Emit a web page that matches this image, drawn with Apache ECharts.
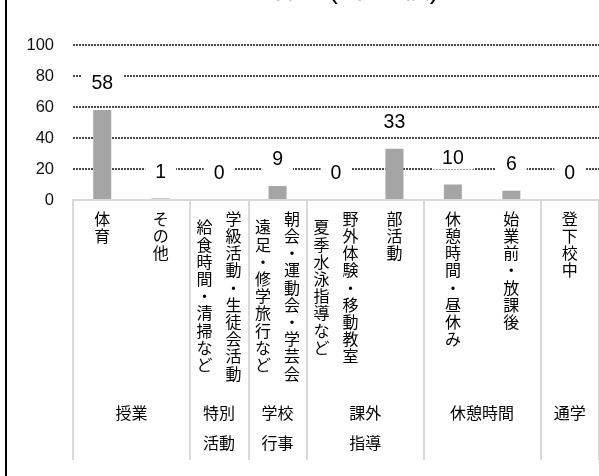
<!DOCTYPE html>
<html>
<head>
<meta charset="utf-8">
<script src="https://cdn.jsdelivr.net/npm/echarts@6/dist/echarts.min.js"></script>
<style>
  html, body { margin: 0; padding: 0; background: #fff; }
  #chart { width: 599px; height: 476px; }
  #edge { position: absolute; left: 5px; top: 0; width: 2px; height: 476px; background: #000; }
</style>
</head>
<body>
<div id="chart"></div>
<div id="edge"></div>
<script>
// 種目（縦書き・改行で2列、1行目が右の列）
const categories = [
  '体育',
  'その他',
  '学級活動・生徒会活動\n給食時間・清掃など',
  '朝会・運動会・学芸会\n遠足・修学旅行など',
  '野外体験・移動教室\n夏季水泳指導など',
  '部活動',
  '休憩時間・昼休み',
  '始業前・放課後',
  '登下校中'
]
const counts = [58, 1, 0, 9, 0, 33, 10, 6, 0]

// 大分類：区切り位置と見出し位置（カテゴリ数単位）
const groupNames = ['授業', '特別\n活動', '学校\n行事', '課外\n指導', '休憩時間', '通学']
const groupCenters = [1, 2.5, 3.5, 5, 7, 8.5]
const groupBounds = [0, 2, 3, 4, 6, 8, 9]

const yTicks = [0, 20, 40, 60, 80, 100]

const FONT = '"Liberation Sans", "Noto Sans CJK JP", sans-serif'
const BLANK = '\u3000'

// 縦書き風：半行ずつずらして2列を並べる
function vertical(label) {
  const cols = label.split('\n')
  const right = Array.from(cols[0])
  const rows = []
  if (cols.length === 1) {
    right.forEach((ch, i) => {
      if (i > 0) rows.push('{c|' + BLANK + '}')
      rows.push('{c|' + ch + '}')
    })
    return rows.join('\n')
  }
  const left = Array.from(cols[1])
  const n = Math.max(right.length, left.length)
  for (let k = 0; k < n * 2; k++) {
    if (k % 2 === 0) {
      const ch = right[k / 2] || BLANK
      rows.push('{c|' + BLANK + '}{g| }{c|' + ch + '}')
    } else {
      const ch = left[(k - 1) / 2] || BLANK
      rows.push('{c|' + ch + '}{g| }{c|' + BLANK + '}')
    }
  }
  return rows.join('\n')
}

const myChart = echarts.init(document.getElementById('chart'))

const options = {
  backgroundColor: '#fff',
  animation: false,
  textStyle: { fontFamily: FONT },
  title: {
    text: '111件\u3000( 中学校)',
    left: 230,
    top: -24,
    padding: 0,
    textStyle: { fontSize: 28, fontWeight: 'normal', color: '#000', fontFamily: FONT }
  },
  grid: { left: 73, right: -1, top: 45, bottom: 276, containLabel: false },
  xAxis: [
    {
      type: 'category',
      data: categories,
      position: 'bottom',
      axisLine: { lineStyle: { color: '#d9d9d9', width: 2 } },
      axisTick: { show: false },
      axisLabel: {
        interval: 0,
        margin: 16,
        color: '#000',
        formatter: vertical,
        rich: {
          c: { fontSize: 16, lineHeight: 8.6, width: 16, align: 'center', color: '#000', fontFamily: FONT },
          g: { fontSize: 10, lineHeight: 8.6, width: 13 }
        }
      },
      z: 5
    },
    {
      type: 'value',
      min: 0,
      max: 9,
      position: 'bottom',
      gridIndex: 0,
      axisLine: { show: false },
      splitLine: { show: false },
      axisTick: {
        show: true,
        customValues: groupBounds,
        length: 260,
        lineStyle: { color: '#d9d9d9', width: 2 }
      },
      axisLabel: {
        customValues: groupCenters,
        margin: 200,
        formatter: v => groupNames[groupCenters.indexOf(v)],
        color: '#000',
        fontSize: 16,
        lineHeight: 30,
        fontFamily: FONT
      }
    }
  ],
  yAxis: {
    type: 'value',
    min: yTicks[0],
    max: yTicks[yTicks.length - 1],
    interval: 20,
    axisLine: { show: false },
    axisTick: { show: false },
    axisLabel: { margin: 19, fontSize: 16.5, color: '#111', fontFamily: '"Liberation Sans", sans-serif' },
    splitLine: { lineStyle: { color: '#111', width: 1.5, type: [2, 1] } }
  },
  series: [
    {
      type: 'bar',
      xAxisIndex: 0,
      data: counts,
      barWidth: 18,
      itemStyle: { color: '#a5a5a5' },
      label: {
        show: true,
        position: 'top',
        distance: 15,
        fontSize: 19.5,
        color: '#000',
        fontFamily: '"Liberation Sans", sans-serif',
        backgroundColor: '#fff',
        padding: [1, 10]
      },
      z: 3
    }
  ]
}
myChart.setOption(options)
</script>
</body>
</html>
